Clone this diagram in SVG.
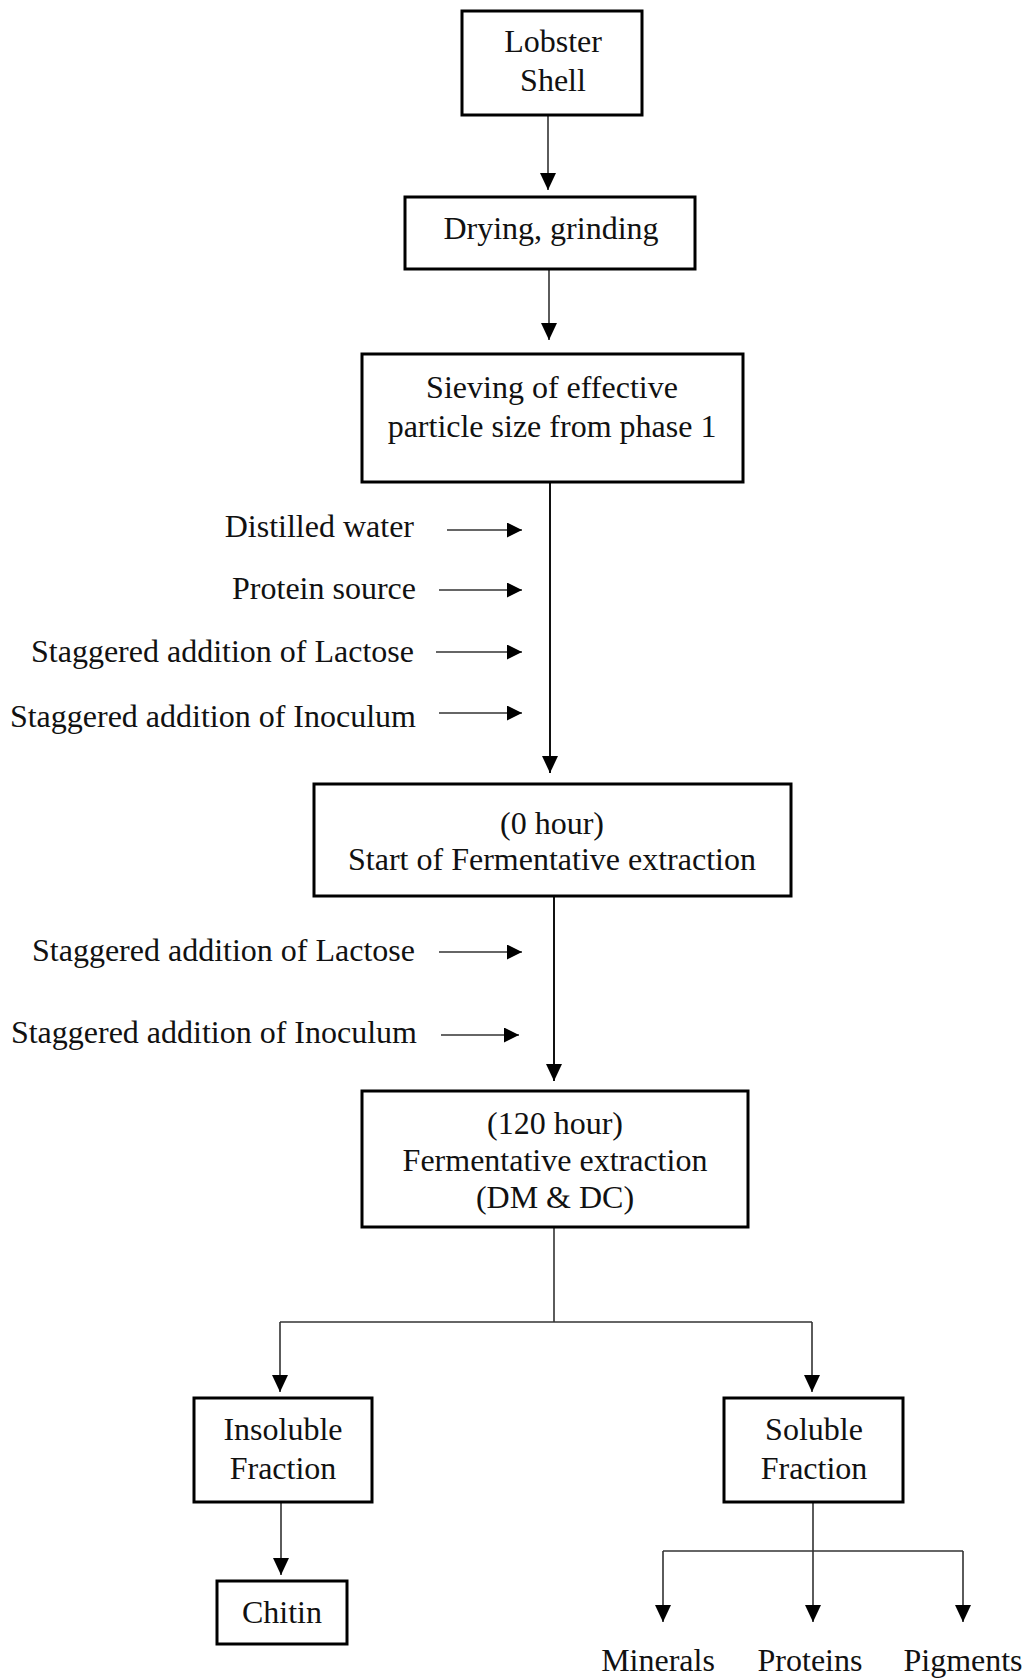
<svg xmlns="http://www.w3.org/2000/svg" width="1026" height="1678" viewBox="0 0 1026 1678">
  <style>
    .box { fill: #ffffff; stroke: #000000; stroke-width: 3; }
    .lbl { font-family: "Liberation Serif", "Times New Roman", serif; font-size: 32px; fill: #111111; }
    .mid { text-anchor: middle; }
    .end { text-anchor: end; }
    .wire { fill: none; stroke: #333333; stroke-width: 1.6; }
    .trunk { stroke: #111111; stroke-width: 2; }
  </style>
  <defs>
    <marker id="head" markerUnits="userSpaceOnUse" markerWidth="17" markerHeight="16" refX="17" refY="8" orient="auto">
      <path d="M0,0 L17,8 L0,16 z" fill="#000000"/>
    </marker>
    <marker id="headSmall" markerUnits="userSpaceOnUse" markerWidth="15" markerHeight="15" refX="15" refY="7.5" orient="auto">
      <path d="M0,0 L15,7.5 L0,15 z" fill="#000000"/>
    </marker>
  </defs>

  <rect width="1026" height="1678" fill="#ffffff"/>

  <!-- connectors -->
  <g id="connectors" class="wire">
    <line x1="548" y1="115" x2="548" y2="190" marker-end="url(#head)"/>
    <line x1="549" y1="269" x2="549" y2="340" marker-end="url(#head)"/>
    <line class="trunk" x1="550" y1="482" x2="550" y2="773" marker-end="url(#head)"/>

    <line x1="447" y1="530" x2="522" y2="530" marker-end="url(#headSmall)"/>
    <line x1="439" y1="590" x2="522" y2="590" marker-end="url(#headSmall)"/>
    <line x1="436" y1="652" x2="522" y2="652" marker-end="url(#headSmall)"/>
    <line x1="439" y1="713" x2="522" y2="713" marker-end="url(#headSmall)"/>

    <line class="trunk" x1="554" y1="896" x2="554" y2="1081" marker-end="url(#head)"/>
    <line x1="439" y1="952" x2="522" y2="952" marker-end="url(#headSmall)"/>
    <line x1="441" y1="1035" x2="519" y2="1035" marker-end="url(#headSmall)"/>

    <line x1="554" y1="1227" x2="554" y2="1322"/>
    <line x1="280" y1="1322" x2="812" y2="1322"/>
    <line x1="280" y1="1322" x2="280" y2="1392" marker-end="url(#head)"/>
    <line x1="812" y1="1322" x2="812" y2="1392" marker-end="url(#head)"/>

    <line x1="281" y1="1502" x2="281" y2="1575" marker-end="url(#head)"/>

    <line x1="813" y1="1502" x2="813" y2="1551"/>
    <line x1="663" y1="1551" x2="963" y2="1551"/>
    <line x1="663" y1="1551" x2="663" y2="1622" marker-end="url(#head)"/>
    <line x1="813" y1="1551" x2="813" y2="1622" marker-end="url(#head)"/>
    <line x1="963" y1="1551" x2="963" y2="1622" marker-end="url(#head)"/>
  </g>

  <!-- process steps -->
  <g id="lobster-shell">
    <rect class="box" x="462" y="11" width="180" height="104"/>
    <text class="lbl mid" x="553" y="52">Lobster</text>
    <text class="lbl mid" x="553" y="91">Shell</text>
  </g>

  <g id="drying-grinding">
    <rect class="box" x="405" y="197" width="290" height="72"/>
    <text class="lbl mid" x="551" y="239">Drying, grinding</text>
  </g>

  <g id="sieving">
    <rect class="box" x="362" y="354" width="381" height="128"/>
    <text class="lbl mid" x="552" y="398">Sieving of effective</text>
    <text class="lbl mid" x="552" y="437">particle size from phase 1</text>
  </g>

  <g id="inputs-start">
    <text class="lbl end" x="414" y="537">Distilled water</text>
    <text class="lbl end" x="416" y="599">Protein source</text>
    <text class="lbl end" x="414" y="662">Staggered addition of Lactose</text>
    <text class="lbl end" x="416" y="727">Staggered addition of Inoculum</text>
  </g>

  <g id="start-fermentation">
    <rect class="box" x="314" y="784" width="477" height="112"/>
    <text class="lbl mid" x="552" y="834">(0 hour)</text>
    <text class="lbl mid" x="552" y="870">Start of Fermentative extraction</text>
  </g>

  <g id="inputs-during">
    <text class="lbl end" x="415" y="961">Staggered addition of Lactose</text>
    <text class="lbl end" x="417" y="1043">Staggered addition of Inoculum</text>
  </g>

  <g id="fermentation-120h">
    <rect class="box" x="362" y="1091" width="386" height="136"/>
    <text class="lbl mid" x="555" y="1134">(120 hour)</text>
    <text class="lbl mid" x="555" y="1171">Fermentative extraction</text>
    <text class="lbl mid" x="555" y="1208">(DM &amp; DC)</text>
  </g>

  <g id="insoluble-fraction">
    <rect class="box" x="194" y="1398" width="178" height="104"/>
    <text class="lbl mid" x="283" y="1440">Insoluble</text>
    <text class="lbl mid" x="283" y="1479">Fraction</text>
  </g>

  <g id="soluble-fraction">
    <rect class="box" x="724" y="1398" width="179" height="104"/>
    <text class="lbl mid" x="814" y="1440">Soluble</text>
    <text class="lbl mid" x="814" y="1479">Fraction</text>
  </g>

  <g id="chitin">
    <rect class="box" x="217" y="1581" width="130" height="63"/>
    <text class="lbl mid" x="282" y="1623">Chitin</text>
  </g>

  <g id="minerals">
    <text class="lbl mid" x="658" y="1671">Minerals</text>
  </g>
  <g id="proteins">
    <text class="lbl mid" x="810" y="1671">Proteins</text>
  </g>
  <g id="pigments">
    <text class="lbl mid" x="963" y="1671">Pigments</text>
  </g>
</svg>
